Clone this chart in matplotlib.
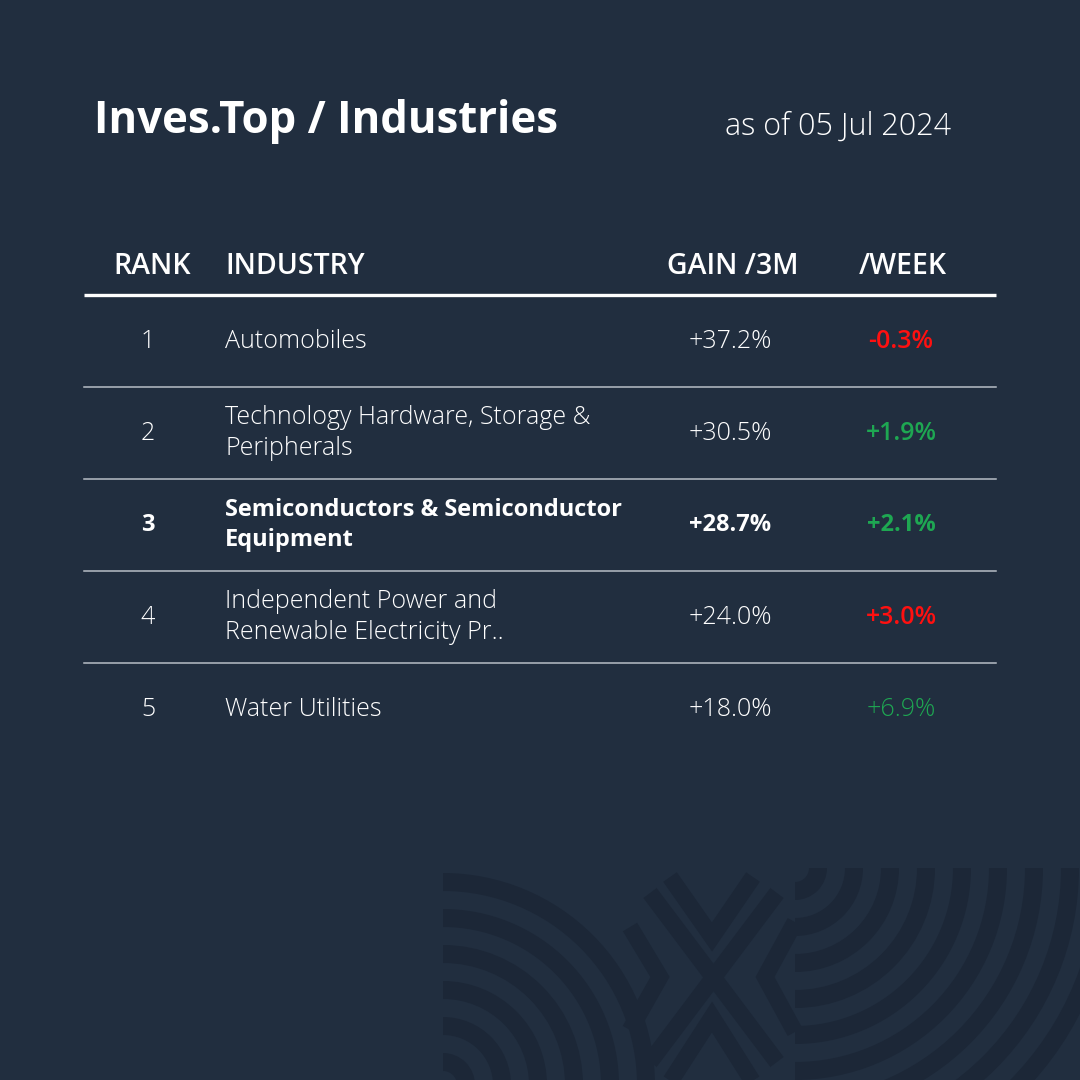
import matplotlib.pyplot as plt
from matplotlib.patches import Wedge, Rectangle

BG = "#212e3f"
PATTERN = "#1c2737"
RED = "#ff1010"
GREEN = "#1ea752"

TITLE = "Inves.Top / Industries"
DATE = "as of 05 Jul 2024"
HEADERS = ["RANK", "INDUSTRY", "GAIN /3M", "/WEEK"]

ranks = ["1", "2", "3", "4", "5"]
industries = ["Automobiles",
              "Technology Hardware, Storage &\nPeripherals",
              "Semiconductors & Semiconductor\nEquipment",
              "Independent Power and\nRenewable Electricity Pr..",
              "Water Utilities"]
gain_3m = [37.2, 30.5, 28.7, 24.0, 18.0]
gain_week = [-0.3, 1.9, 2.1, 3.0, 6.9]
week_colors = [RED, GREEN, GREEN, RED, GREEN]     # as in the source, not sign based
week_weights = ["semibold", "semibold", "bold", "semibold", "light"]
highlight = 2   # row shown in bold

plt.rcParams['font.family'] = ['Open Sans', 'DejaVu Sans']

fig = plt.figure(figsize=(10.8, 10.8), dpi=100, facecolor=BG)
ax = fig.add_axes([0, 0, 1, 1])
ax.set_xlim(0, 1080)
ax.set_ylim(1080, 0)
ax.axis("off")
ax.set_facecolor(BG)

# decorative logo pattern in the bottom right corner
clip_left = Rectangle((443, 862), 215, 230, transform=ax.transData)
for r in range(14, 230, 36):
    w = Wedge((443, 1085), r + 18, 270, 360, width=18, color=PATTERN, lw=0)
    ax.add_patch(w)
    w.set_clip_path(clip_left)

clip_right = Rectangle((795, 862), 300, 230, transform=ax.transData)
for r in range(14, 320, 36):
    w = Wedge((795, 868), r + 18, 0, 90, width=18, color=PATTERN, lw=0)
    ax.add_patch(w)
    w.set_clip_path(clip_right)

strokes = [([670, 712, 753], [877, 937, 877]),
           ([650, 777], [893, 1062]),
           ([777, 650], [893, 1062]),
           ([630, 660, 630], [927, 977, 1030]),
           ([795, 765, 795], [922, 977, 1032]),
           ([670, 712, 753], [1082, 1017, 1082])]
for xs, ys in strokes:
    ax.plot(xs, ys, color=PATTERN, lw=12, solid_capstyle="butt", solid_joinstyle="miter")

# title
ax.text(94, 121, TITLE, color="white", fontsize=31.5, fontweight="bold", va="center", ha="left")
ax.text(951, 127, DATE, color="white", fontsize=22, fontweight="light", va="center", ha="right")

# header
col_x = [152, 225, 733, 903]
col_ha = ["center", "left", "center", "center"]
for x, ha, h in zip(col_x, col_ha, HEADERS):
    ax.text(x, 266, h, color="white", fontsize=20.5, fontweight="semibold", va="center", ha=ha)
ax.plot([84, 996], [295, 295], color="white", lw=2.4, solid_capstyle="butt")

# rows
row_h = 92
top = 341
for i in range(len(ranks)):
    y = top + i * row_h
    bold = i == highlight
    wt = "bold" if bold else "light"
    fs = 17 if bold else 18
    ax.text(148, y, ranks[i], color="white", fontsize=fs, fontweight=wt, va="center", ha="center")
    ax.text(col_x[1], y, industries[i], color="white", fontsize=fs, fontweight=wt,
            va="center", ha="left", linespacing=1.3)
    ax.text(col_x[2] - 3, y, f"{gain_3m[i]:+.1f}%", color="white", fontsize=fs, fontweight=wt,
            va="center", ha="center")
    ax.text(col_x[3] - 2, y, f"{gain_week[i]:+.1f}%", color=week_colors[i], fontsize=fs,
            fontweight=week_weights[i], va="center", ha="center")
    if i < len(ranks) - 1:
        sep = top - 2 + i * row_h + row_h / 2 + 2
        ax.plot([84, 996], [sep, sep], color="#b8bec6", lw=1.1)

fig.savefig("out.png", dpi=100, facecolor=BG)
